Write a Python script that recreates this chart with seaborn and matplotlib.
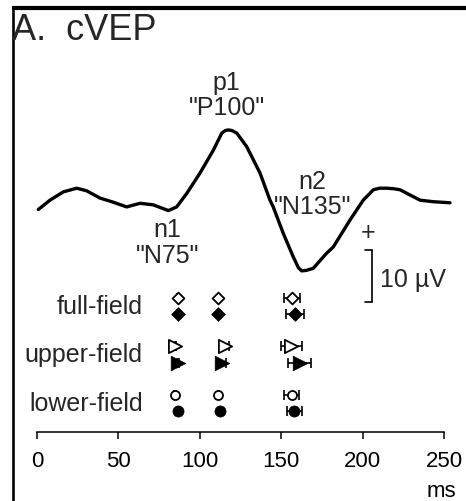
import numpy as np
import pandas as pd
import matplotlib
matplotlib.use("Agg")
import matplotlib.pyplot as plt
import matplotlib.transforms as mtransforms
from matplotlib.lines import Line2D
import seaborn as sns

# ---------------- data ----------------
times_ms = [0.8, 8.0, 16.2, 24.4, 30.5, 38.7, 46.9, 55.1, 63.3, 71.4, 80.7, 85.8,
            92.0, 100.1, 108.3, 113.5, 115.8, 117.5, 119.6, 122.7, 128.8, 137.0, 143.1, 145.1,
            151.3, 157.4, 160.6, 162.6, 165.5, 169.7, 177.9, 182.0, 192.3, 200.4, 206.6,
            210.5, 214.8, 219.0, 223.0, 229.1, 235.3, 243.4, 253.7]
amplitude_uv = [-0.1, 1.7, 3.3, 4.0, 3.5, 2.1, 1.3, 0.4, 1.1, 0.8, -0.3, 0.4,
                3.0, 6.9, 11.3, 14.6, 15.1, 15.2, 15.1, 14.6, 12.0, 6.9, 1.7, 0.4,
                -4.7, -9.2, -11.3, -11.9, -11.8, -11.4, -8.5, -7.3, -2.1, 1.7, 3.7,
                4.0, 4.0, 3.9, 3.7, 2.7, 1.7, 1.4, 1.2]

fields = ["full-field", "upper-field", "lower-field"]

full_open = [86.4, 111.4, 156.6]
full_open_err = [0.5, 0.5, 4.9]
full_filled = [86.8, 111.4, 158.5]
full_filled_err = [0.5, 0.5, 5.7]
upper_open = [85.0, 115.5, 156.2]
upper_open_err = [0.5, 2.5, 6.3]
upper_filled = [86.6, 113.6, 161.3]
upper_filled_err = [0.5, 2.5, 6.9]
lower_open = [84.8, 111.4, 156.4]
lower_open_err = [0.5, 0.5, 4.4]
lower_filled = [86.8, 112.4, 157.9]
lower_filled_err = [0.5, 0.5, 4.6]

x_ticks = [0, 50, 100, 150, 200, 250]

# ---------------- figure ----------------
sns.set_theme(style="white")
plt.rcParams["font.family"] = ["Liberation Sans", "DejaVu Sans"]

W, H = 466, 501
fig = plt.figure(figsize=(W / 100, H / 100), dpi=100)
fig.patch.set_facecolor("white")

def px_axes(x0, y0, x1, y1):
    return fig.add_axes([x0 / W, 1 - y1 / H, (x1 - x0) / W, (y1 - y0) / H])

# bottom axes: latency markers
axb = px_axes(37, 285, 444, 432)
axb.patch.set_alpha(0)
# top axes: waveform
axw = px_axes(37, 60, 444, 310)
axw.patch.set_alpha(0)

# ---- waveform
wave = pd.DataFrame({"t": times_ms, "v": amplitude_uv})
sns.lineplot(data=wave, x="t", y="v", ax=axw, color="black", lw=2.4,
             sort=False, clip_on=False)
axw.set_xlim(0, 250)
axw.set_ylim(-19.42, 28.65)
axw.axis("off")

fs = 18
axw.text(116.5, 24.2, "p1", ha="center", va="center", fontsize=fs)
axw.text(116.5, 19.4, '"P100"', ha="center", va="center", fontsize=fs)
axw.text(80.3, -4.0, "n1", ha="center", va="center", fontsize=fs)
axw.text(80.0, -9.0, '"N75"', ha="center", va="center", fontsize=fs)
axw.text(169.0, 5.25, "n2", ha="center", va="center", fontsize=fs)
axw.text(169.3, 0.44, '"N135"', ha="center", va="center", fontsize=fs)

# scale bar (10 uV)
bar_top, bar_bot = -7.8, -17.8
axw.plot([201.6, 205.6, 205.6, 201.6], [bar_top, bar_top, bar_bot, bar_bot],
         color="black", lw=1.2, clip_on=False, solid_joinstyle="miter")
axw.text(203.3, -4.6, "+", ha="center", va="center", fontsize=fs)
axw.text(210.5, -13.65, "10 \u00b5V", ha="left", va="center", fontsize=fs)

# ---- latency markers
offs = 0.175
rows = {
    "full-field": (full_open, full_open_err, full_filled, full_filled_err, "D", 6.0, 7.0),
    "upper-field": (upper_open, upper_open_err, upper_filled, upper_filled_err, ">", 9.5, 10.5),
    "lower-field": (lower_open, lower_open_err, lower_filled, lower_filled_err, "o", 6.5, 8.0),
}
for i, f in enumerate(fields):
    o, oe, fl, fle, m, ms_o, ms_f = rows[f]
    axb.errorbar(o, [i - offs] * 3, xerr=oe, fmt="none", ecolor="black",
                 elinewidth=1.2, capsize=3.5, capthick=1.2, zorder=2)
    axb.errorbar(fl, [i + offs] * 3, xerr=fle, fmt="none", ecolor="black",
                 elinewidth=1.2, capsize=3.5, capthick=1.2, zorder=2)
    sns.scatterplot(x=o, y=[i - offs] * 3, ax=axb, marker=m, s=ms_o ** 2,
                    facecolor="white", edgecolor="black", linewidth=1.3, zorder=3)
    sns.scatterplot(x=fl, y=[i + offs] * 3, ax=axb, marker=m, s=ms_f ** 2,
                    color="black", edgecolor="black", linewidth=0.5, zorder=3)

trans = mtransforms.blended_transform_factory(axb.transAxes, axb.transData)
for i, f in enumerate(fields):
    axb.text(0.26, i + 0.02, f, transform=trans, ha="right", va="center", fontsize=fs)

axb.set_xlim(0, 250)
axb.set_ylim(2.598, -0.433)
axb.set_yticks([])
axb.set_xticks(x_ticks)
axb.set_xticklabels([str(t) for t in x_ticks], fontsize=16)
for s in ["top", "right", "left"]:
    axb.spines[s].set_visible(False)
axb.spines["bottom"].set_color("black")
axb.spines["bottom"].set_linewidth(1.1)
axb.tick_params(axis="x", direction="out", length=5, width=1.1, color="black",
                pad=9, bottom=True, labelcolor="black")
axb.set_xlabel("ms", fontsize=16, color="black")
axb.xaxis.set_label_coords(0.993, -0.33)
axb.xaxis.label.set_horizontalalignment("center")
axb.set_ylabel("")

# ---- panel title and frame
fig.text(12.5 / W, 1 - 40 / H, "A.  cVEP", fontsize=26, ha="left", va="baseline")
fig.add_artist(Line2D([12 / W, 1], [1 - 8 / H, 1 - 8 / H], color="black", lw=3.0,
                      transform=fig.transFigure, solid_capstyle="butt"))
fig.add_artist(Line2D([13.2 / W, 13.2 / W], [0, 1 - 6 / H], color="black", lw=1.9,
                      transform=fig.transFigure, solid_capstyle="butt"))

fig.savefig("out.png", dpi=100, facecolor="white")
